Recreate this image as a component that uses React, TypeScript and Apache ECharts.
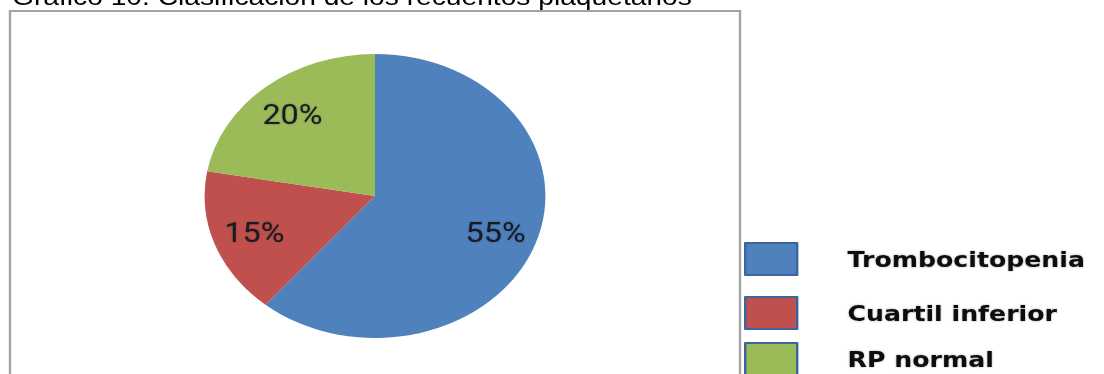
import React, { useEffect, useRef } from "react";
import * as echarts from "echarts";

const titleText = "Gráfico 10. Clasificación de los recuentos plaquetarios";
const categories = ["Trombocitopenia", "Cuartil inferior", "RP normal"];
const values = [55, 15, 20];
const colors = ["#4f81bd", "#c0504d", "#9bbb59"];

const SX = 1.2; // horizontal stretch of the original picture
const W = 1104 / SX;
const H = 374;

export default function App() {
  const ref = useRef<HTMLDivElement>(null);
  useEffect(() => {
    if (!ref.current) return;
    const chart = echarts.init(ref.current, undefined, { renderer: "svg" });
    const data = categories.map((name, i) => ({
      name,
      value: values[i],
      itemStyle: { color: colors[i] },
    }));
    const legendTops = [242, 296, 342];
    const option: any = {
      animation: false,
      backgroundColor: "#ffffff",
      title: {
        text: titleText,
        left: 10,
        top: -15,
        padding: 0,
        textStyle: {
          fontFamily: "Liberation Sans, Arial, sans-serif",
          fontSize: 23.5,
          fontWeight: "normal",
          color: "#000000",
        },
      },
      graphic: [
        {
          type: "rect",
          shape: { x: 10 / SX, y: 11, width: 730 / SX, height: 420 },
          style: { fill: "none", stroke: "#a3a3a3", lineWidth: 2 },
          silent: true,
          z: -1,
        },
      ],
      legend: categories.map((name, i) => ({
        data: [name],
        orient: "vertical",
        left: 744 / SX,
        top: legendTops[i],
        padding: 0,
        itemWidth: 52 / SX,
        itemHeight: 32,
        icon: "rect",
        selectedMode: false,
        itemStyle: { borderColor: "#3b659c", borderWidth: 2 },
        textStyle: {
          fontFamily: "DejaVu Sans, sans-serif",
          fontWeight: "bold",
          fontSize: 21,
          color: "#111111",
          padding: [0, 0, 0, 37],
          textShadowColor: "rgba(0,0,0,0.35)",
          textShadowBlur: 2,
        },
      })),
      series: [
        {
          type: "pie",
          center: [375 / SX, 196],
          radius: [0, 142],
          startAngle: 90,
          clockwise: true,
          silent: true,
          label: { show: false },
          labelLine: { show: false },
          emphasis: { disabled: true },
          data,
        },
        {
          type: "pie",
          center: [375 / SX, 196],
          radius: [66, 142],
          startAngle: 90,
          clockwise: true,
          silent: true,
          itemStyle: { color: "rgba(0,0,0,0)" },
          label: {
            show: true,
            position: "inside",
            formatter: "{c}%",
            fontFamily: "Roboto, sans-serif",
            fontSize: 27,
            color: "#161a22",
            textShadowColor: "rgba(0,0,0,0.3)",
            textShadowBlur: 2,
          },
          labelLine: { show: false },
          emphasis: { disabled: true },
          data: categories.map((name, i) => ({ name, value: values[i], itemStyle: { color: "rgba(0,0,0,0)" } })),
        },
      ],
    };
    chart.setOption(option);
    return () => chart.dispose();
  }, []);
  return (
    <div
      style={{
        position: "absolute",
        left: 0,
        top: 0,
        width: 1104,
        height: H,
        overflow: "hidden",
        background: "#fff",
      }}
    >
      <div
        ref={ref}
        style={{
          width: W,
          height: H,
          transform: `scaleX(${SX})`,
          transformOrigin: "0 0",
        }}
      />
    </div>
  );
}
